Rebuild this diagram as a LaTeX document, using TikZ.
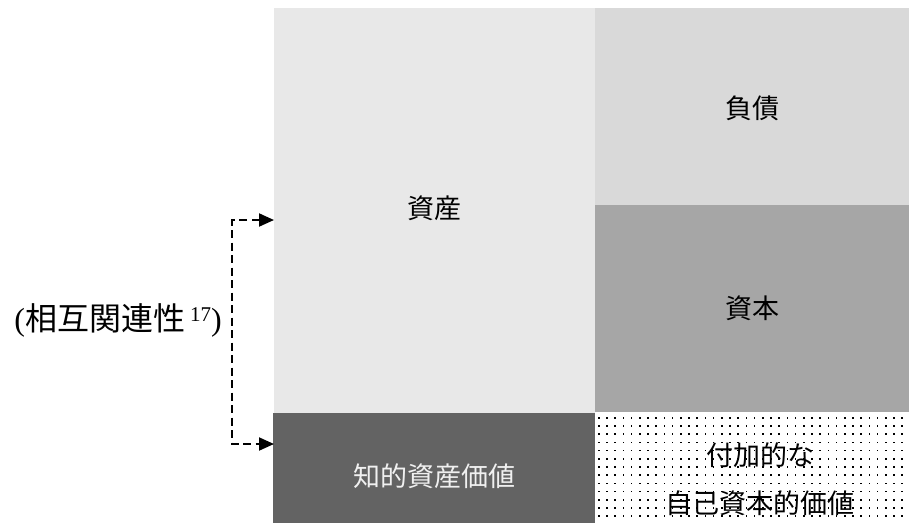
\documentclass[tikz,border=0pt]{standalone}
\usepackage{fontspec}
\setmainfont{Liberation Serif}
\newfontfamily\jp{Noto Sans CJK JP}
\usetikzlibrary{arrows.meta}
\definecolor{cAsset}{HTML}{E8E8E8}
\definecolor{cDebt}{HTML}{D9D9D9}
\definecolor{cCap}{HTML}{A6A6A6}
\definecolor{cIA}{HTML}{636363}
\tikzset{
  lbl/.style={font=\jp\fontsize{27}{34}\selectfont, text=black},
  rel/.style={dashed, dash pattern=on 8pt off 4.5pt, line width=2pt,
    {Triangle[length=15pt,width=13pt]}-{Triangle[length=15pt,width=13pt]}},
}
\begin{document}
\begin{tikzpicture}[x=1pt,y=-1pt]
\useasboundingbox (0,0) rectangle (909,523);
% boxes
\fill[cAsset] (274,8) rectangle (595,413);
\fill[cDebt] (595,8) rectangle (909,205);
\fill[cCap] (595,205) rectangle (909,412);
\fill[cIA] (273,413) rectangle (595,523);
% dotted box
\begin{scope}
\clip (596,414) rectangle (909,523);
\foreach \i in {0,...,40}{
  \foreach \j in {0,...,14}{
    \fill[black] ({598+8.2*\i},{417+8.2*\j}) rectangle ++(1.6,1.6);
  }
}
\end{scope}
% labels
\node[lbl] (shisan) at (434,208) {資産};
\node[lbl] (fusai) at (752,108) {負債};
\node[lbl] (shihon) at (752,308) {資本};
\node[lbl, text=white!94!black] (chiteki) at (434,476) {知的資産価値};
\node[lbl] (fuka1) at (760,455) {付加的な};
\node[lbl] (fuka2) at (760,503) {自己資本的価値};
\node[font=\fontsize{32}{36}\selectfont, anchor=east, inner sep=0pt] (sogo) at (222,320) {(\jp 相互関連性\hspace{5pt}\raisebox{0.5ex}{\fontsize{21}{22}\selectfont\rmfamily 17}\rmfamily)};
% bracket arrow
\coordinate (ta) at (274,220);
\coordinate (tb) at (274,444);
\draw[rel] (ta) -- (232,220) -- (232,444) -- (tb);
\end{tikzpicture}
\end{document}
